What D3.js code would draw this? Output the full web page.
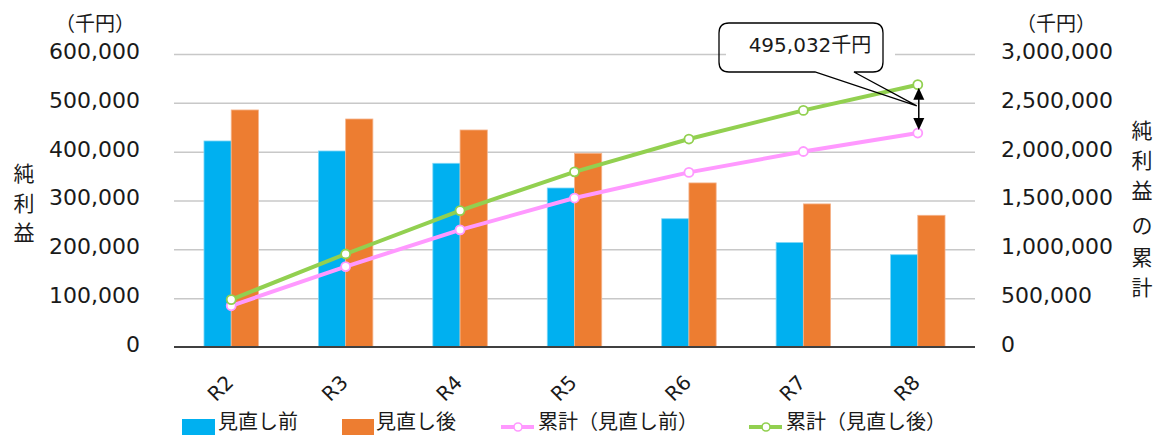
<!DOCTYPE html>
<html lang="ja">
<head>
<meta charset="utf-8">
<script src="https://cdn.jsdelivr.net/npm/d3@7"></script>
<style>
  html, body { margin: 0; padding: 0; background: #fff; overflow: hidden; }
  svg { display: block; }
  text { fill: #1a1a1a; }
</style>
</head>
<body>
<svg id="chart" width="1156" height="435"></svg>
<script>
// 年度
const categories = ["R2", "R3", "R4", "R5", "R6", "R7", "R8"];
// 純利益（千円）
const beforeValues = [421900, 401400, 376200, 325600, 262700, 214000, 189000];
const afterValues  = [485400, 466900, 444400, 396700, 336000, 293000, 269700];
// 純利益の累計（千円）
const cumBefore = [421900, 823300, 1199500, 1525100, 1787800, 2001800, 2190800];
const cumAfter  = [485400, 952300, 1396700, 1793400, 2129400, 2422400, 2685832];
// 目盛
const leftTicks  = [0, 100000, 200000, 300000, 400000, 500000, 600000];
const rightTicks = [0, 500000, 1000000, 1500000, 2000000, 2500000, 3000000];
const seriesNames = ["見直し前", "見直し後", "累計（見直し前）", "累計（見直し後）"];
const calloutText = "495,032千円";

const numFont = "'DejaVu Sans', 'Noto Sans CJK JP', sans-serif";
const jpFont = "'Noto Sans CJK JP', 'DejaVu Sans', sans-serif";
const C = { before: "#00B0F0", after: "#ED7D31", cumBefore: "#FF99FF", cumAfter: "#92D050", grid: "#C8C8C8" };

const svg = d3.select("#chart");
const plot = { left: 174, right: 975, top: 54, bottom: 347 };

const x = d3.scaleBand().domain(categories).range([plot.left, plot.right]).padding(0);
const bw = x.bandwidth();
const xInner = d3.scaleBand().domain(["before", "after"]).range([bw * 0.262, bw * 0.738]).padding(0);
const yL = d3.scaleLinear().domain([0, 600000]).range([plot.bottom, plot.top]);
const yR = d3.scaleLinear().domain([0, 3000000]).range([plot.bottom, plot.top]);
const cx = c => x(c) + bw / 2;
const fmt = d3.format(",");

// 横グリッド線
svg.append("g")
  .attr("transform", `translate(${plot.left},0)`)
  .call(d3.axisLeft(yL).tickValues(leftTicks.slice(1)).tickSize(-(plot.right - plot.left)).tickFormat(""))
  .call(g => g.select(".domain").remove())
  .call(g => g.selectAll("line").attr("stroke", C.grid).attr("stroke-width", 1.5));

// 吹き出しの文字の背景
svg.append("rect").attr("x", 726).attr("y", 46).attr("width", 169).attr("height", 16).attr("fill", "#fff");

// 左軸ラベル
svg.append("g")
  .attr("transform", `translate(${plot.left},0)`)
  .call(d3.axisLeft(yL).tickValues(leftTicks).tickSize(0).tickPadding(34).tickFormat(fmt))
  .call(g => g.select(".domain").remove())
  .call(g => g.selectAll("text").attr("font-family", numFont).attr("font-size", 22).attr("dy", "0.2em").style("fill", "#1a1a1a"));

// 右軸ラベル
svg.append("g")
  .attr("transform", `translate(${plot.right},0)`)
  .call(d3.axisRight(yR).tickValues(rightTicks).tickSize(0).tickPadding(26).tickFormat(fmt))
  .call(g => g.select(".domain").remove())
  .call(g => g.selectAll("text").attr("font-family", numFont).attr("font-size", 22).attr("dy", "0.2em").style("fill", "#1a1a1a"));

// 棒グラフ
const bars = svg.append("g");
const barSeries = [
  { key: "before", values: beforeValues, color: C.before, edge: "#7fd7f7" },
  { key: "after", values: afterValues, color: C.after, edge: "#f5b48c" }
];
barSeries.forEach(s => {
  bars.selectAll(null).data(categories).join("rect")
    .attr("x", c => x(c) + xInner(s.key))
    .attr("y", (c, i) => yL(s.values[i]))
    .attr("width", xInner.bandwidth())
    .attr("height", (c, i) => yL(0) - yL(s.values[i]))
    .attr("fill", s.color)
    .attr("stroke", s.edge).attr("stroke-width", 0.8);
});

// 横軸の線
svg.append("line")
  .attr("x1", plot.left).attr("x2", plot.right)
  .attr("y1", yL(0)).attr("y2", yL(0))
  .attr("stroke", "#404040").attr("stroke-width", 2);

// 横軸ラベル（斜め45度）
const labelY = 388;
const xLabels = svg.append("g").selectAll("g").data(categories).join("g")
  .attr("transform", c => `translate(${cx(c) - 11},${labelY}) rotate(-45)`);
xLabels.append("text")
  .attr("x", 0).attr("y", 0)
  .attr("text-anchor", "middle").attr("dy", "0.36em")
  .attr("font-family", numFont).attr("font-size", 20)
  .text(c => c);

// 累計の折れ線
const lineSeries = [
  { values: cumBefore, color: C.cumBefore },
  { values: cumAfter, color: C.cumAfter }
];
lineSeries.forEach(s => {
  const pts = categories.map((c, i) => [cx(c), yR(s.values[i])]);
  svg.append("path")
    .attr("d", d3.line()(pts))
    .attr("fill", "none").attr("stroke", s.color).attr("stroke-width", 4)
    .attr("stroke-linejoin", "round");
  svg.append("g").selectAll("circle").data(pts).join("circle")
    .attr("cx", d => d[0]).attr("cy", d => d[1]).attr("r", 4.5)
    .attr("fill", "#fff").attr("stroke", s.color).attr("stroke-width", 1.8);
});

// 差額の両矢印
const last = categories[categories.length - 1];
const ax = cx(last) + 1;
const yTop = yR(cumAfter[cumAfter.length - 1]) + 3;
const yBot = yR(cumBefore[cumBefore.length - 1]) - 3;
svg.append("line").attr("x1", ax).attr("x2", ax).attr("y1", yTop + 8).attr("y2", yBot - 8)
  .attr("stroke", "#000").attr("stroke-width", 1.5);
svg.append("path").attr("d", `M${ax},${yTop} L${ax - 5.5},${yTop + 12} L${ax + 5.5},${yTop + 12} Z`).attr("fill", "#000");
svg.append("path").attr("d", `M${ax},${yBot} L${ax - 5.5},${yBot - 12} L${ax + 5.5},${yBot - 12} Z`).attr("fill", "#000");

// 吹き出し
const bx0 = 719, bx1 = 883, by0 = 23, by1 = 72, r = 10;
const tipX = ax - 2, tipY = (yTop + yBot) / 2 - 3;
svg.append("path")
  .attr("d", `M${bx0 + r},${by0} H${bx1 - r} Q${bx1},${by0} ${bx1},${by0 + r} V${by1 - r} Q${bx1},${by1} ${bx1 - r},${by1}
    H854 L${tipX},${tipY} L815,${by1} H${bx0 + r} Q${bx0},${by1} ${bx0},${by1 - r} V${by0 + r} Q${bx0},${by0} ${bx0 + r},${by0} Z`)
  .attr("fill", "none").attr("stroke", "#000").attr("stroke-width", 1.3);
svg.append("text")
  .attr("x", 810).attr("y", 46).attr("text-anchor", "middle").attr("dominant-baseline", "middle")
  .attr("font-family", numFont).attr("font-size", 20)
  .text(calloutText);

// 単位
[[95, 26], [1056, 26]].forEach(([tx, ty]) => {
  svg.append("text").attr("x", tx).attr("y", ty)
    .attr("text-anchor", "middle").attr("dominant-baseline", "middle")
    .attr("font-family", jpFont).attr("font-size", 20)
    .text("（千円）");
});

// 軸タイトル（縦書き）
const vTitle = (chars, xPos, ys) => {
  svg.append("g").selectAll("text").data(chars).join("text")
    .attr("x", xPos).attr("y", (d, i) => ys[i])
    .attr("text-anchor", "middle").attr("dominant-baseline", "central")
    .attr("font-family", jpFont).attr("font-size", 21)
    .text(d => d);
};
vTitle(Array.from("純利益"), 24, [172, 202, 231]);
vTitle(Array.from("純利益の累計"), 1142, [129, 159, 189, 224, 256, 286]);

// 凡例
const legend = svg.append("g").attr("font-family", jpFont).attr("font-size", 20);
const legendTextY = 420;
legend.append("rect").attr("x", 182).attr("y", 419).attr("width", 33).attr("height", 18).attr("fill", C.before);
legend.append("text").attr("x", 218).attr("y", legendTextY).attr("dominant-baseline", "central").text(seriesNames[0]);
legend.append("rect").attr("x", 342).attr("y", 419).attr("width", 32).attr("height", 18).attr("fill", C.after);
legend.append("text").attr("x", 376).attr("y", legendTextY).attr("dominant-baseline", "central").text(seriesNames[1]);
[[501, C.cumBefore, seriesNames[2]], [749, C.cumAfter, seriesNames[3]]].forEach(([lx, col, name]) => {
  legend.append("line").attr("x1", lx).attr("x2", lx + 33).attr("y1", 427).attr("y2", 427)
    .attr("stroke", col).attr("stroke-width", 4);
  legend.append("circle").attr("cx", lx + 17).attr("cy", 427).attr("r", 4)
    .attr("fill", "#fff").attr("stroke", col).attr("stroke-width", 1.6);
  legend.append("text").attr("x", lx + 37).attr("y", legendTextY).attr("dominant-baseline", "central").text(name);
});
</script>
</body>
</html>
